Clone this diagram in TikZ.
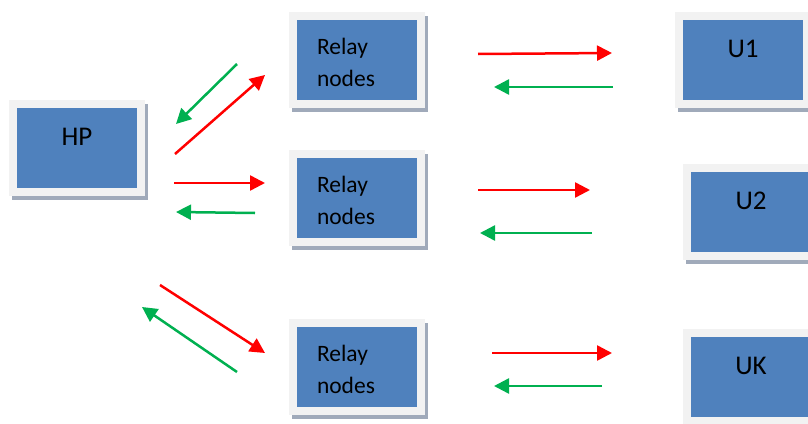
\documentclass[tikz,border=0pt]{standalone}
\usepackage{fontspec}
\setmainfont{Carlito}
\usetikzlibrary{arrows.meta,shadows}

\definecolor{boxblue}{HTML}{4F81BD}
\definecolor{boxframe}{HTML}{F2F2F2}
\definecolor{boxshade}{HTML}{A0AABA}
\definecolor{fwdred}{HTML}{FF0000}
\definecolor{backgreen}{HTML}{00B050}

\tikzset{
  box/.style={fill=boxblue, draw=boxframe, line width=8pt,
    drop shadow={shadow xshift=3pt, shadow yshift=-4pt, opacity=1,
      fill=boxshade, draw=boxshade, line width=8pt},
    minimum width=128pt, minimum height=88pt, inner sep=4pt,
    text height=37.5pt, text depth=42.5pt, font=\fontsize{27}{32}\selectfont},
  relaybox/.style={box, inner xsep=24pt, text width=80pt, align=left,
    text height=34pt, text depth=46pt, font=\fontsize{23.5}{32}\selectfont},
  fwd/.style={fwdred, line width=2.5pt, -{Triangle[length=15pt,width=15pt]}},
  back/.style={backgreen, line width=2.5pt, -{Triangle[length=15pt,width=15pt]}}
}

\begin{document}
\begin{tikzpicture}[x=1pt, y=-1pt]
  \useasboundingbox (0,0) rectangle (808,423);

  % source, relays and users
  \node[box] (hp) at (77,148) {HP};
  \foreach \n/\y in {r1/60, r2/198, r3/367}
    \node[relaybox] (\n) at (357,\y) {Relay\\nodes};
  \node[box] (u1) at (743,60) {U1};
  \node[box] (u2) at (751,212) {U2};
  \node[box] (uk) at (751,377) {UK};

  % arrow ends, HP side
  \coordinate (hr1a) at (175,154); \coordinate (hr1b) at (265,75);
  \coordinate (rh1a) at (237,64);  \coordinate (rh1b) at (176,124);
  \coordinate (hr2a) at (174,183); \coordinate (hr2b) at (265,183);
  \coordinate (rh2a) at (255,213); \coordinate (rh2b) at (176,212);
  \coordinate (hr3a) at (160,285); \coordinate (hr3b) at (265,353);
  \coordinate (rh3a) at (237,372); \coordinate (rh3b) at (142,307);
  % arrow ends, user side
  \coordinate (ru1a) at (478,54);  \coordinate (ru1b) at (612,53);
  \coordinate (ur1a) at (613,87);  \coordinate (ur1b) at (494,87);
  \coordinate (ru2a) at (478,190); \coordinate (ru2b) at (590,190);
  \coordinate (ur2a) at (592,233); \coordinate (ur2b) at (480,233);
  \coordinate (ru3a) at (492,353); \coordinate (ru3b) at (612,353);
  \coordinate (ur3a) at (602,386); \coordinate (ur3b) at (494,386);

  \foreach \i in {1,2,3} {
    \draw[fwd]  (hr\i a) -- (hr\i b);
    \draw[back] (rh\i a) -- (rh\i b);
    \draw[fwd]  (ru\i a) -- (ru\i b);
    \draw[back] (ur\i a) -- (ur\i b);
  }
\end{tikzpicture}
\end{document}
